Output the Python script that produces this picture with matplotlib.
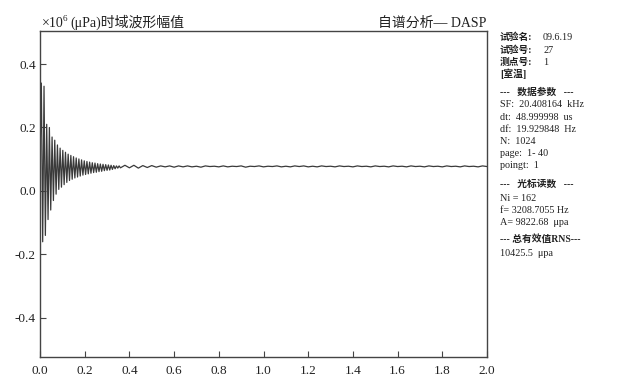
import numpy as np
import matplotlib.pyplot as plt

plt.rcParams['font.family'] = ['Liberation Serif', 'Noto Sans CJK SC']

# decaying part of the waveform, one sample every 0.006
decay_step = 0.006
decay_wave = [0.10, 0.34, -0.16, 0.33, -0.14, 0.21, -0.09, 0.20, -0.06, 0.17,
              -0.03, 0.16, -0.01, 0.145, 0.005, 0.135, 0.012, 0.128, 0.02, 0.122,
              0.027, 0.116, 0.033, 0.112, 0.037, 0.108, 0.041, 0.104, 0.044, 0.101,
              0.047, 0.098, 0.05, 0.095, 0.052, 0.093, 0.054, 0.091, 0.056, 0.089,
              0.058, 0.088, 0.059, 0.086, 0.061, 0.085, 0.062, 0.084, 0.064, 0.083,
              0.065, 0.082, 0.066, 0.081, 0.068, 0.080, 0.070, 0.079, 0.072, 0.079,
              0.073]

# steady tail, one sample every 0.02 starting at 0.38
tail_start = 0.38
tail_step = 0.02
tail_wave = [0.081, 0.073, 0.081, 0.072, 0.080, 0.074, 0.080, 0.075, 0.079, 0.076,
             0.079, 0.075, 0.079, 0.076, 0.079, 0.076, 0.078, 0.075, 0.079, 0.077,
             0.078, 0.076, 0.079, 0.076, 0.078, 0.077, 0.079, 0.075, 0.078, 0.077,
             0.079, 0.076, 0.078, 0.077, 0.079, 0.076, 0.078, 0.076, 0.079, 0.077,
             0.079, 0.076, 0.078, 0.076, 0.079, 0.077, 0.078, 0.076, 0.079, 0.077,
             0.078, 0.076, 0.079, 0.077, 0.078, 0.076, 0.079, 0.077, 0.078, 0.076,
             0.079, 0.077, 0.078, 0.076, 0.079, 0.077, 0.078, 0.076, 0.079, 0.077,
             0.078, 0.076, 0.079, 0.077, 0.078, 0.076, 0.079, 0.077, 0.078, 0.076,
             0.079, 0.077]

x_ticks = [0.0, 0.2, 0.4, 0.6, 0.8, 1.0, 1.2, 1.4, 1.6, 1.8, 2.0]
y_ticks = [-0.4, -0.2, 0.0, 0.2, 0.4]

info_lines = [
    ('试验名:', '09.6.19'),
    ('试验号:', '27'),
    ('测点号:', '1'),
    ('[室温]', ''),
    ('---   数据参数   ---', ''),
    ('', 'SF:  20.408164  kHz'),
    ('', 'dt:  48.999998  us'),
    ('', 'df:  19.929848  Hz'),
    ('', 'N:  1024'),
    ('', 'page:  1- 40'),
    ('', 'poingt:  1'),
    ('---   光标读数   ---', ''),
    ('', 'Ni = 162'),
    ('', 'f= 3208.7055 Hz'),
    ('', 'A= 9822.68  μpa'),
    ('--- 总有效值RNS---', ''),
    ('', '10425.5  μpa'),
]
info_y = [36, 49, 61, 73, 91, 103, 116, 128, 140, 152, 164,
          183, 197, 209, 221, 238, 252]

t_decay = np.arange(len(decay_wave)) * decay_step
t_tail = tail_start + np.arange(len(tail_wave)) * tail_step
t = np.concatenate([t_decay, t_tail])
wave = np.array(decay_wave + tail_wave)

fig = plt.figure(figsize=(6.4, 3.92), dpi=100)
ax = fig.add_axes([40 / 640, 1 - 357 / 392, 447 / 640, 326 / 392])
ax.plot(t, wave, color='#3a3a3a', linewidth=0.9)
ax.set_xlim(0, 2.0)
ax.set_ylim(-0.523, 0.504)
ax.set_xticks(x_ticks)
ax.set_yticks(y_ticks)
ax.set_xticklabels([f'{v:.1f}' for v in x_ticks])
ax.set_yticklabels([f'{v:.1f}' for v in y_ticks])
ax.tick_params(direction='in', length=4, width=0.8, color='#444444',
               labelsize=9.5, labelcolor='#222222')
ax.tick_params(axis='x', pad=6)
ax.tick_params(axis='y', pad=3)
for sp in ax.spines.values():
    sp.set_color('#444444')
    sp.set_linewidth(1.0)

# left title pieces, chained one after another
renderer = fig.canvas.get_renderer()
base = 1 - 27 / 392
x_px = 42
pieces = [('×10', 10, 0, -1), ('6', 6.5, 6, 3), ('(μPa)时域波形幅值', 10, 0, 0)]
for s, size, lift, gap in pieces:
    txt = fig.text(x_px / 640, base + lift / 392, s, fontsize=size,
                   color='#222222', va='baseline', ha='left')
    x_px += txt.get_window_extent(renderer).width + gap

fig.text(486 / 640, base, '自谱分析— DASP',
         fontsize=10, color='#222222', va='baseline', ha='right')

for (bold_part, plain_part), y in zip(info_lines, info_y):
    yy = 1 - (y + 4) / 392
    if bold_part:
        fig.text(500 / 640, yy, bold_part, fontsize=7, fontweight='bold',
                 color='#222222', va='baseline', ha='left')
        if plain_part:
            fig.text(543 / 640, yy, plain_part, fontsize=7.3,
                     color='#222222', va='baseline', ha='left')
    else:
        fig.text(500 / 640, yy, plain_part, fontsize=7.3,
                 color='#222222', va='baseline', ha='left')

fig.savefig('out.png', dpi=100)
